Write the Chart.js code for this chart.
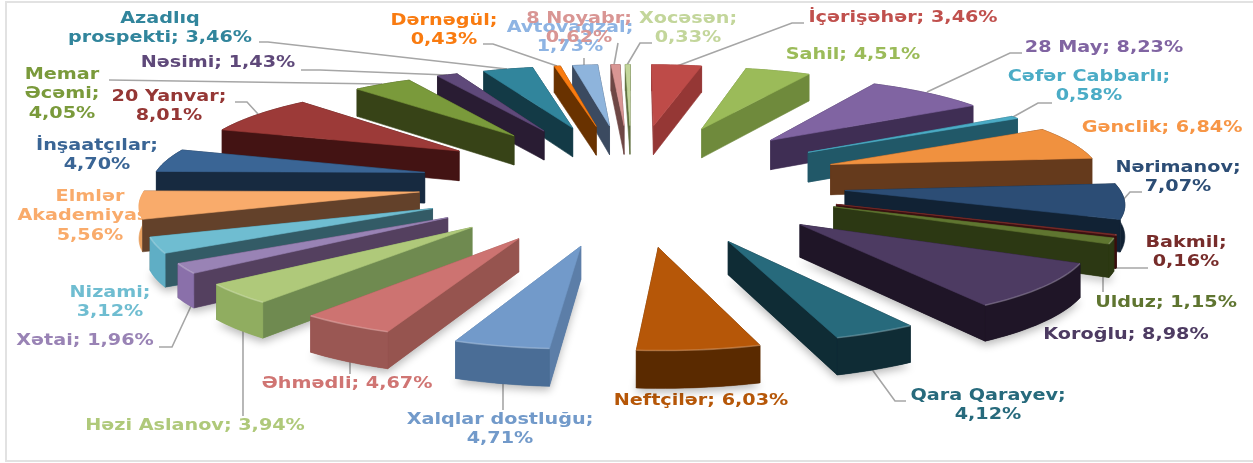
<!DOCTYPE html>
<html><head><meta charset="utf-8">
<style>html,body{margin:0;padding:0;background:#fff;overflow:hidden}#wrap{position:absolute;left:0;top:0;width:1253px;height:463px}canvas{filter:blur(.45px)}</style>
<script src="https://cdn.jsdelivr.net/npm/chart.js@4"></script>
</head><body><div id="wrap"><canvas id="c" width="1253" height="463"></canvas></div>
<script>
// ---- data ----
const categories = ["İçərişəhər","Sahil","28 May","Cəfər Cabbarlı","Gənclik","Nərimanov","Bakmil","Ulduz","Koroğlu","Qara Qarayev","Neftçilər","Xalqlar dostluğu","Əhmədli","Həzi Aslanov","Xətai","Nizami","Elmlər Akademiyası","İnşaatçılar","20 Yanvar","Memar Əcəmi","Nəsimi","Azadlıq prospekti","Dərnəgül","Avtovağzal","8 Noyabr","Xocəsən"];
const shares = [3.46,4.51,8.23,0.58,6.84,7.07,0.16,1.15,8.98,4.12,6.03,4.71,4.67,3.94,1.96,3.12,5.56,4.70,8.01,4.05,1.43,3.46,0.43,1.73,0.62,0.33];
// ---- styles ----
const topColors = ["#BE4B48","#9BBB59","#8064A2","#4BACC6","#F0913F","#2C4D75","#772C2A","#5F7530","#4D3B62","#276A7C","#B65708","#729ACA","#CD7371","#AFC97A","#9983B5","#6FBDD1","#F9AB6B","#3A6595","#9C3A38","#7A9A3B","#5F497A","#31859C","#F97B10","#8EB4DC","#D99694","#C3D69B"];
const textColors = ["#C0504D","#9BBB59","#8064A2","#4BACC6","#F79646","#2C4D75","#772C2A","#5F7530","#4D3B62","#276A7C","#B65708","#729ACA","#D07573","#AFC97A","#9983B5","#6FBDD1","#F9AB6B","#3A6595","#953735","#7A9A3B","#5F497A","#31859C","#F97B10","#8EB4E3","#D99694","#C3D69B"];
const radialFaces = ["#953735","#6F8A3C","#3F2E54","#215868","#653A1C","#112234","#3A1010","#2C3813","#1F1527","#0F2C35","#6A3305","#5C7EA8","#96544F","#6F8A50","#54405F","#335B66","#63412A","#172A40","#431313","#374317","#291C33","#133A46","#693200","#3B4A60","#6E4745","#5F7040"];
const outerFaces = ["#953735","#6F8A3C","#3F2E54","#215868","#653A1C","#112234","#3A1010","#2C3813","#1F1527","#0F2C35","#5A2A00","#4A6D96","#9A5753","#90AD60","#8A70AA","#5FAEC5","#E8A060","#172A40","#431313","#374317","#291C33","#133A46","#693200","#3B4A60","#6E4745","#5F7040"];
// ---- label layout: centre x, first line centre y, words per line ----
const labelLayout = [[903,18,[2]],[853,55,[2]],[1104,48,[3]],[1089,77,[2,1]],[1162,128,[2]],[1178,168,[1,1]],[1186,243,[1,1]],[1166,303,[2]],[1126,335,[2]],[988,396,[2,1]],[701,401,[2]],[500,420,[2,1]],[347,384,[2]],[195,426,[3]],[85,341,[2]],[110,293,[1,1]],[90,197,[1,1,1]],[97,146,[1,1]],[169,97,[2,1]],[62,75,[1,1,1]],[218,63,[2]],[160,19,[1,2]],[444,21,[1,1]],[570,28,[1,1]],[579,19,[2,1]],[688,19,[1,1]]];
const leaderPaths = [[[804,23],[792,23],[677,66]],[],[[1022,53],[1010,53],[927,92]],[[1052,103],[1038,103],[1013,117]],[],[[1142,192],[1130,192],[1123,200]],[[1148,268],[1108,268]],[[1103,292],[1103,275]],[],[[906,401],[895,401],[871,368]],[],[[503,410],[503,383]],[[350,374],[350,361]],[[243,416],[243,329]],[[159,347],[172,347],[192,304]],[],[],[],[[235,102],[247,102],[258,114]],[[109,80],[382,84]],[[301,70],[320,70],[447,75]],[[259,42],[268,42],[507,69]],[[483,44],[493,44],[557,66]],[[584,58],[584,65]],[[618,43],[614,65]],[[652,43],[640,43],[627,65]]];
// ---- projection of the pie plane onto the tilted view ----
const view = {cx:632, cy:182, radius:485, tilt:0.286, persp:0.18, depth:31, textStretch:1.28};
function project(u,v){
  const s = 1/(1-view.persp*v/view.radius);
  return {x:view.cx+u*s, y:view.cy+view.tilt*v*s, d:view.depth*s};
}
function poly(ctx,pts,fill){
  ctx.beginPath();pts.forEach((p,i)=>i?ctx.lineTo(p.x,p.y):ctx.moveTo(p.x,p.y));ctx.closePath();
  ctx.fillStyle=fill;ctx.strokeStyle=fill;ctx.lineWidth=.6;ctx.fill();ctx.stroke();
}
function drawSlice(ctx,arc,i){
  const a=arc.getProps(['startAngle','endAngle','outerRadius']);
  const off=arc.options.offset, unit=view.radius/(a.outerRadius+off), mid=(a.startAngle+a.endAngle)/2;
  const ou=Math.cos(mid)*off*unit, ov=Math.sin(mid)*off*unit, R=a.outerRadius*unit;
  const n=Math.max(2,Math.ceil((a.endAngle-a.startAngle)/0.03));
  const rim=[];
  for(let k=0;k<=n;k++){const t=a.startAngle+(a.endAngle-a.startAngle)*k/n;rim.push(project(ou+Math.cos(t)*R,ov+Math.sin(t)*R));}
  const apex=project(ou,ov);
  const down=p=>({x:p.x,y:p.y+p.d});
  const faces=[];
  const quad=(p,q,c)=>faces.push({y:(p.y+q.y)/2,c,pts:[p,q,down(q),down(p)]});
  quad(apex,rim[0],radialFaces[i]);quad(apex,rim[n],radialFaces[i]);
  faces.push({y:rim.reduce((s,p)=>s+p.y,0)/rim.length,c:outerFaces[i],pts:[...rim,...rim.map(down).reverse()]});
  faces.sort((x,y)=>x.y-y.y);
  if(ov>60){ // soft cast shadow under the near slices
    ctx.save();ctx.shadowColor='rgba(0,0,0,.28)';ctx.shadowBlur=9;ctx.shadowOffsetY=4;
    ctx.beginPath();[...rim.map(down),down(apex)].forEach((p,k)=>k?ctx.lineTo(p.x,p.y):ctx.moveTo(p.x,p.y));ctx.closePath();ctx.fillStyle=outerFaces[i];ctx.fill();ctx.restore();
  }
  faces.forEach(f=>poly(ctx,f.pts,f.c));
  poly(ctx,[apex,...rim],topColors[i]);
  if(ov>60){ // bevel highlight on the near rim
    ctx.beginPath();rim.forEach((p,k)=>k?ctx.lineTo(p.x,p.y):ctx.moveTo(p.x,p.y));
    ctx.strokeStyle='rgba(255,255,255,.22)';ctx.lineWidth=1.6;ctx.stroke();
  }
}
function drawLabels(ctx){
  ctx.save();
  ctx.strokeStyle='#E2E2E2';ctx.lineWidth=2;ctx.strokeRect(6,2,1300,459);
  ctx.strokeStyle='#A6A6A6';ctx.lineWidth=1.6;
  leaderPaths.forEach(p=>{if(!p.length)return;ctx.beginPath();p.forEach((q,k)=>k?ctx.lineTo(q[0],q[1]):ctx.moveTo(q[0],q[1]));ctx.stroke();});
  ctx.font='bold 15px "DejaVu Sans"';ctx.textAlign='center';ctx.textBaseline='middle';
  categories.forEach((name,i)=>{
    const words=(name+'; '+shares[i].toFixed(2).replace('.',',')+'%').split(' ');
    const [x,y,counts]=labelLayout[i];let w=0;
    ctx.fillStyle=textColors[i];
    counts.forEach((c,l)=>{
      const lineWords=words.slice(w,l===counts.length-1?undefined:w+c);w+=c;
      ctx.save();ctx.translate(x,y+l*19.5);ctx.scale(view.textStretch,1);
      ctx.fillText(lineWords.join(' '),0,0);ctx.restore();
    });
  });
  ctx.restore();
}
const pie3d={id:'pie3d',
  beforeDatasetsDraw(chart){
    const ctx=chart.ctx, arcs=chart.getDatasetMeta(0).data;
    drawLabels(ctx); // the slices sit above the labels, as in the reference
    ctx.save();
    arcs.map((arc,i)=>({arc,i,key:Math.sin((arc.startAngle+arc.endAngle)/2)}))
        .sort((a,b)=>a.key-b.key).forEach(o=>drawSlice(ctx,o.arc,o.i));
    ctx.restore();
    return false;
  }};
new Chart(document.getElementById('c'),{type:'pie',
  data:{labels:categories,datasets:[{data:shares,backgroundColor:topColors,borderWidth:0,offset:130}]},
  options:{responsive:false,animation:false,events:[],layout:{padding:0},plugins:{legend:{display:false},tooltip:{enabled:false}}},
  plugins:[pie3d]});
</script></body></html>
